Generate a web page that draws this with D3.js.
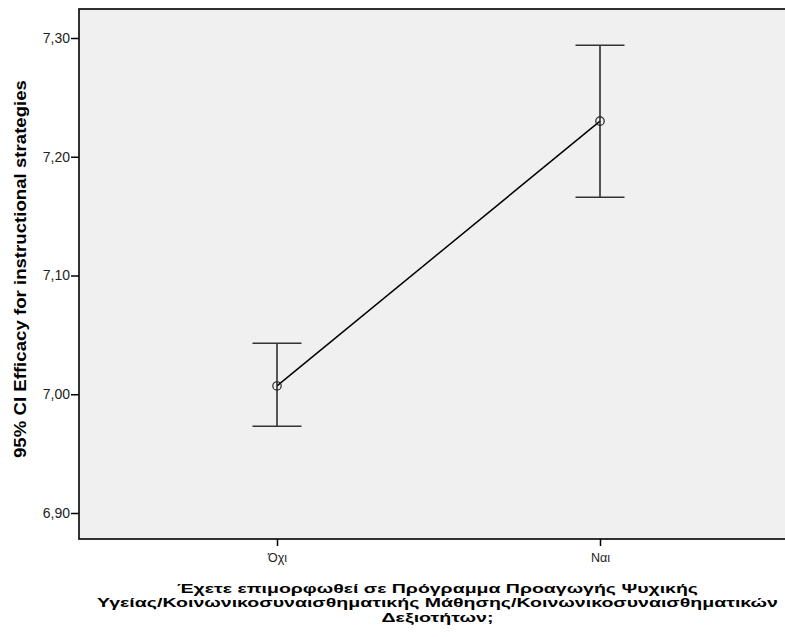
<!DOCTYPE html>
<html>
<head>
<meta charset="utf-8">
<script src="https://cdn.jsdelivr.net/npm/d3@7"></script>
<style>
  html, body { margin: 0; padding: 0; background: #fff; }
  svg { display: block; }
  text { font-family: "Liberation Sans", Arial, sans-serif; }
</style>
</head>
<body>
<svg id="chart" width="785" height="637"></svg>
<script>
// Group labels and 95% confidence intervals for the mean
const categories = ["Όχι", "Ναι"];
const means = [7.007, 7.230];
const ciLower = [6.973, 7.166];
const ciUpper = [7.043, 7.294];
const yTicks = [6.90, 7.00, 7.10, 7.20, 7.30];

const yTitle = "95% CI Efficacy for instructional strategies";
const xTitleLines = [
  "Έχετε επιμορφωθεί σε Πρόγραμμα Προαγωγής Ψυχικής",
  "Υγείας/Κοινωνικοσυναισθηματικής Μάθησης/Κοινωνικοσυναισθηματικών",
  "Δεξιοτήτων;"
];

const svg = d3.select("#chart");
const plot = { left: 79, right: 798, top: 9, bottom: 539 };

const x = d3.scalePoint()
  .domain(categories)
  .range([plot.left, plot.right])
  .padding(0.613);

const y = d3.scaleLinear()
  .domain([6.90, 7.30])
  .range([513, 38]);

const fmt = v => d3.format(".2f")(v).replace(".", ",");

// plot background
svg.append("rect")
  .attr("x", plot.left)
  .attr("y", plot.top)
  .attr("width", plot.right - plot.left)
  .attr("height", plot.bottom - plot.top)
  .attr("fill", "#f0f0f0")
  .attr("stroke", "#000")
  .attr("stroke-width", 1.6);

// y axis
const yAxis = svg.append("g")
  .attr("transform", `translate(${plot.left},0)`)
  .call(d3.axisLeft(y).tickValues(yTicks).tickFormat(fmt).tickSize(8).tickPadding(1));
yAxis.select(".domain").remove();
yAxis.selectAll(".tick line").attr("stroke", "#000").attr("stroke-width", 1.5);
yAxis.selectAll(".tick text")
  .attr("fill", "#222")
  .style("font-size", "14px")
  .style("font-family", "'Liberation Sans', Arial, sans-serif");

// x axis
const xAxis = svg.append("g")
  .attr("transform", `translate(0,${plot.bottom})`)
  .call(d3.axisBottom(x).tickSize(7).tickPadding(7));
xAxis.select(".domain").remove();
xAxis.selectAll(".tick line").attr("stroke", "#000").attr("stroke-width", 1.5);
xAxis.selectAll(".tick text")
  .attr("fill", "#222")
  .style("font-size", "12.5px")
  .style("font-family", "'Liberation Sans', Arial, sans-serif");

const g = svg.append("g");

// line connecting the group means
g.append("path")
  .datum(categories.map((c, i) => [x(c), y(means[i])]))
  .attr("d", d3.line())
  .attr("fill", "none")
  .attr("stroke", "#000")
  .attr("stroke-width", 1.5);

// error bars
const capHalf = 24.5;
categories.forEach((c, i) => {
  const cx = x(c);
  g.append("line")
    .attr("x1", cx).attr("x2", cx)
    .attr("y1", y(ciUpper[i])).attr("y2", y(ciLower[i]))
    .attr("stroke", "#222").attr("stroke-width", 1.5);
  [ciUpper[i], ciLower[i]].forEach(v => {
    g.append("line")
      .attr("x1", cx - capHalf).attr("x2", cx + capHalf)
      .attr("y1", y(v)).attr("y2", y(v))
      .attr("stroke", "#333").attr("stroke-width", 1.5);
  });
  g.append("circle")
    .attr("cx", cx).attr("cy", y(means[i]))
    .attr("r", 4.2)
    .attr("fill", "none")
    .attr("stroke", "#222")
    .attr("stroke-width", 1.2);
});

// y axis title
svg.append("text")
  .attr("transform", "translate(26,269) rotate(-90)")
  .attr("text-anchor", "middle")
  .attr("textLength", 378)
  .attr("lengthAdjust", "spacingAndGlyphs")
  .style("font-size", "16.5px")
  .style("font-weight", "bold")
  .attr("fill", "#000")
  .text(yTitle);

// x axis title, three centred lines
const xTitleWidths = [521, 681, 112];
svg.append("g")
  .selectAll("text")
  .data(xTitleLines)
  .join("text")
  .attr("text-anchor", "middle")
  .attr("x", 437.5)
  .attr("y", (d, i) => 592.5 + i * 14.6)
  .attr("textLength", (d, i) => xTitleWidths[i])
  .attr("lengthAdjust", "spacingAndGlyphs")
  .style("font-size", "13px")
  .style("font-weight", "bold")
  .attr("fill", "#000")
  .text(d => d);
</script>
</body>
</html>
